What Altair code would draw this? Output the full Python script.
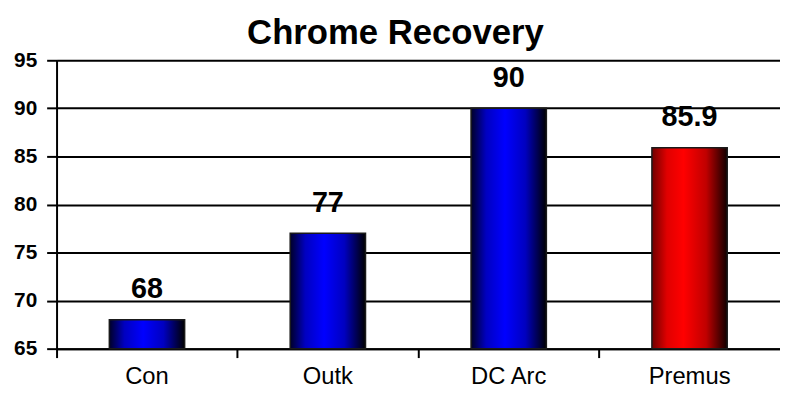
import altair as alt
import pandas as pd

categories = ["Con", "Outk", "DC Arc", "Premus"]
values = [68, 77, 90, 85.9]
labels = ["68", "77", "90", "85.9"]
groups = ["blue", "blue", "blue", "red"]
y_ticks = [65, 70, 75, 80, 85, 90, 95]

df = pd.DataFrame({"cat": categories, "val": values, "lab": labels, "grp": groups, "base": [65] * 4})

FONT = "Liberation Sans"

blue_grad = alt.Gradient(
    gradient="linear", x1=0, x2=1, y1=0, y2=0,
    stops=[
        alt.GradientStop(color="#000028", offset=0),
        alt.GradientStop(color="#0000c0", offset=0.2),
        alt.GradientStop(color="#0000ff", offset=0.45),
        alt.GradientStop(color="#0000c0", offset=0.72),
        alt.GradientStop(color="#000000", offset=1),
    ],
)
red_grad = alt.Gradient(
    gradient="linear", x1=0, x2=1, y1=0, y2=0,
    stops=[
        alt.GradientStop(color="#700000", offset=0),
        alt.GradientStop(color="#e00000", offset=0.2),
        alt.GradientStop(color="#ff0000", offset=0.42),
        alt.GradientStop(color="#c00000", offset=0.72),
        alt.GradientStop(color="#100000", offset=1),
    ],
)

x_enc = alt.X(
    "cat:N", sort=categories, title=None,
    scale=alt.Scale(paddingInner=0, paddingOuter=0),
    axis=alt.Axis(
        bandPosition=0, labelAngle=0, labelFont=FONT, labelFontSize=24,
        labelColor="black", labelPadding=7, tickSize=9, tickColor="black", tickWidth=2,
        domainColor="black", domainWidth=2, grid=False,
    ),
)
y_enc = alt.Y(
    "val:Q", title=None,
    scale=alt.Scale(domain=[65, 95], zero=False, nice=False),
    axis=alt.Axis(
        values=y_ticks, labelFont=FONT, labelFontSize=21, labelFontWeight="bold",
        labelColor="black", labelPadding=10, tickSize=10, tickColor="black", tickWidth=2,
        domainColor="black", domainWidth=2, grid=True, gridColor="black", gridWidth=2,
        gridOpacity=1,
    ),
)

base = alt.Chart(df)

blue_bars = base.transform_filter(alt.datum.grp == "blue").mark_bar(
    size=76, color=blue_grad, stroke="#1a1a1a", strokeWidth=1.5
).encode(x=x_enc, y=y_enc, y2="base:Q")

red_bars = base.transform_filter(alt.datum.grp == "red").mark_bar(
    size=76, color=red_grad, stroke="#1a1a1a", strokeWidth=1.5
).encode(x=x_enc, y=y_enc, y2="base:Q")

text = base.mark_text(
    font=FONT, fontSize=29, fontWeight="bold", color="black", baseline="alphabetic", dy=-22
).encode(x=x_enc, y=y_enc, text="lab:N")

chart = alt.layer(blue_bars, red_bars, text).properties(
    width=730, height=291,
    autosize=alt.AutoSizeParams(type="none"),
    padding={"left": 49, "top": 51, "right": 0, "bottom": 44},
    title=alt.TitleParams(
        "Chrome Recovery", font=FONT, fontSize=35, fontWeight="bold", color="black",
        anchor="middle", offset=-2, dx=-23,
    ),
).configure_view(stroke=None)

chart.save("out.html", embed_options={"renderer": "svg", "actions": False})
